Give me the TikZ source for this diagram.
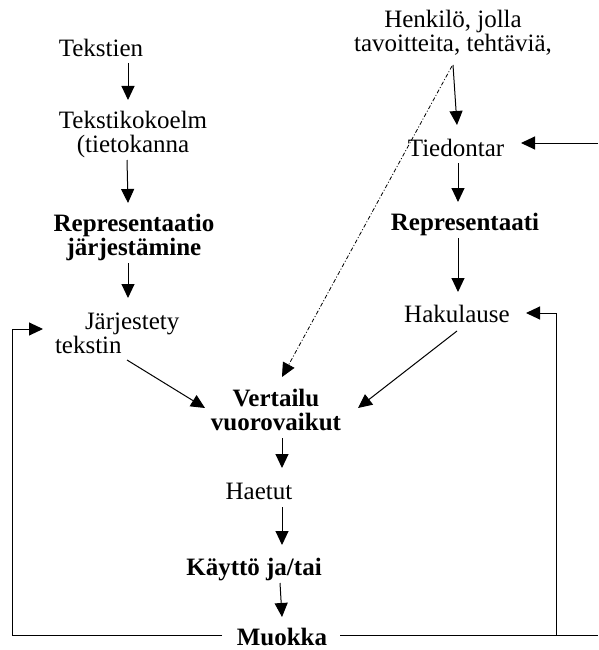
\documentclass[tikz,border=0pt]{standalone}
\usepackage{fontspec}
\setmainfont{Liberation Serif}
\usetikzlibrary{arrows.meta,calc}
\begin{document}
\begin{tikzpicture}[x=1pt,y=-1pt,
  every node/.style={inner sep=0pt, outer sep=0pt, align=center,
    font=\fontsize{25}{24}\selectfont},
  lbl/.style={anchor=base},
  bold/.style={font=\fontsize{25}{24}\selectfont\bfseries},
  arr/.style={draw, line width=1pt, -{Triangle[length=14pt,width=13pt]}},
  link/.style={draw, line width=1pt},
  hint/.style={draw, line width=0.8pt,
    dash pattern=on 4pt off 2pt on 1pt off 2pt,
    -{Triangle[length=14pt,width=13pt]}}]
\useasboundingbox (0,0) rectangle (598,650);

% left column: text collection (multi-line nodes sit on their last baseline)
\node[lbl] (tekstien) at (101,57) {Tekstien};
\node[lbl] (kokoelma) at (133,152) {Tekstikokoelm\\(tietokanna};
\node[lbl,bold] (repL) at (134,255) {Representaatio\\järjestämine};
\node[anchor=base west, align=left] (jarj) at (55,353) {\hspace{30pt}Järjestety\\tekstin};

% right column: the searcher
\node[lbl] (henkilo) at (453,52) {Henkilö, jolla\\tavoitteita, tehtäviä,};
\node[lbl] (tiedon) at (456,156) {Tiedontar};
\node[lbl,bold] (repR) at (465,230) {Representaati};
\node[lbl] (haku) at (457,322) {Hakulause};

% centre column
\node[lbl,bold] (vert) at (276,430) {Vertailu\\vuorovaikut};
\node[lbl] (haetut) at (259,499) {Haetut};
\node[lbl,bold] (kaytto) at (254,575) {Käyttö ja/tai};
\node[lbl,bold] (muokka) at (282,645) {Muokka};

% feedback rails and free ends at the right border
\coordinate (westrail) at (12,0);
\coordinate (eastrail) at (556,0);
\coordinate (offBottom) at (598,635);
\coordinate (offTop) at (598,143);

% left column arrows
\draw[arr] ([shift={(27,6)}]tekstien.base) -- ([shift={(-5,-52)}]kokoelma.base);
\draw[arr] ([shift={(-6,8)}]kokoelma.base) -- ([shift={(-6,-52)}]repL.base);
\draw[arr] ([shift={(-6,8)}]repL.base) -- ([shift={(73,-55)}]jarj.base west);
\draw[arr] ([shift={(72,7)}]jarj.base west) -- ([shift={(-71,-22)}]vert.base);

% right column arrows
\draw[arr] ([shift={(0,13)}]henkilo.base) -- ([shift={(1,-31)}]tiedon.base);
\draw[arr] ([shift={(2,7)}]tiedon.base) -- ([shift={(-7,-28)}]repR.base);
\draw[arr] ([shift={(-7,8)}]repR.base) -- ([shift={(1,-30)}]haku.base);
\draw[arr] ([shift={(0,9)}]haku.base) -- ([shift={(82,-22)}]vert.base);
\draw[hint] ([shift={(-1,14)}]henkilo.base) -- ([shift={(6,-53)}]vert.base);

% centre column arrows
\draw[arr] ([shift={(6,8)}]vert.base) -- ([shift={(23,-31)}]haetut.base);
\draw[arr] ([shift={(23,8)}]haetut.base) -- ([shift={(28,-30)}]kaytto.base);
\draw[arr] ([shift={(26,8)}]kaytto.base) -- ([shift={(0,-28)}]muokka.base);

% feedback loops
\coordinate (mL) at ([shift={(-60,-10)}]muokka.base);
\coordinate (mR) at ([shift={(58,-10)}]muokka.base);
\draw[arr] (mL) -- (mL -| westrail) |- ([shift={(-12,-24)}]jarj.base west);
\draw[link] (mR) -- (offBottom);
\draw[arr] (mR -| eastrail) |- ([shift={(69,-9)}]haku.base);
\draw[arr] (offTop) -- ([shift={(65,-13)}]tiedon.base);
\end{tikzpicture}
\end{document}
